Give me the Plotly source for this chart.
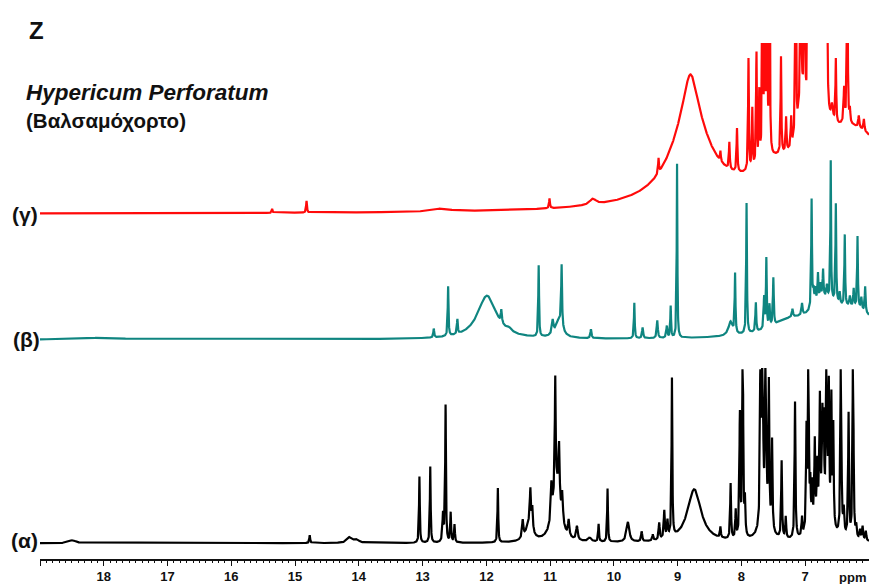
import numpy as np
import plotly.graph_objects as go

# Chemical-shift window (ppm), drawn from high to low field
PPM_LEFT, PPM_RIGHT = 19.0, 6.0
TICK_PPM = list(range(7, 20))

# (α) spectrum: peak centres (ppm), heights, half-widths (ppm)
ALPHA_PPM = [18.49, 14.77, 14.14, 14.03, 13.05, 12.88, 12.68, 12.64, 12.56, 12.50,
             11.82, 11.33, 11.43, 11.31, 11.28, 10.90, 10.98, 10.92, 10.86, 10.81,
             10.71, 10.58, 10.38, 10.24, 10.10, 9.78, 9.565, 9.39, 9.29, 9.21,
             9.16, 9.09, 8.74, 8.33, 8.17, 8.09, 8.025, 7.98, 7.945, 7.63,
             7.70, 7.67, 7.62, 7.57, 7.52, 7.37, 7.305, 7.16, 7.05, 6.74,
             6.98, 6.95, 6.92, 6.89, 6.85, 6.81, 6.77, 6.73, 6.71, 6.665,
             6.63, 6.59, 6.56, 6.44, 6.395, 6.32, 6.25, 6.20, 6.14, 6.10, 6.05]
ALPHA_HEIGHT = [3, 8, 6, 3, 67, 77, 28, 138, 30, 18,
                55, 18, 18, 36, 22, 58, 35, 112, 55, 28,
                16, 14, 4, 18, 54, 20, 10, 6, 17, 28,
                17, 160, 54, 11, 56, 28, 125, 220, 35, 25,
                220, 250, 220, 140, 90, 78, 22, 138, 18, 35,
                100, 200, 40, 40, 80, 50, 110, 85, 80, 220,
                130, 125, 100, 220, 25, 125, 220, 12, 10, 14, 10]
ALPHA_WIDTH = [0.06, 0.008, 0.05, 0.04, 0.007, 0.007, 0.010, 0.007, 0.008, 0.008,
               0.007, 0.06, 0.012, 0.010, 0.010, 0.07, 0.012, 0.008, 0.010, 0.012,
               0.012, 0.015, 0.03, 0.008, 0.007, 0.025, 0.010, 0.010, 0.010, 0.010,
               0.010, 0.007, 0.13, 0.008, 0.008, 0.008, 0.008, 0.008, 0.008, 0.08,
               0.008, 0.008, 0.008, 0.008, 0.008, 0.008, 0.008, 0.008, 0.008, 0.12,
               0.008, 0.008, 0.008, 0.008, 0.008, 0.008, 0.008, 0.008, 0.008, 0.008,
               0.008, 0.008, 0.008, 0.008, 0.010, 0.008, 0.008, 0.010, 0.010, 0.010, 0.010]

# (β) spectrum
BETA_PPM = [18.0, 12.825, 12.60, 12.455, 11.99, 11.765, 11.64, 11.18, 10.96, 10.86,
            10.82, 10.36, 9.68, 9.55, 9.32, 9.17, 9.11, 9.01, 8.17, 8.10,
            7.92, 7.775, 7.645, 7.61, 7.56, 7.50, 7.25, 6.70, 6.20, 7.20,
            7.05, 6.90, 6.87, 6.84, 6.80, 6.76, 6.72, 6.66, 6.60, 6.52,
            6.46, 6.38, 6.30, 6.24, 6.18, 6.12, 6.06]
BETA_HEIGHT = [2, 9, 50, 15, 44, 13, 3, 72, 14, 18,
               62, 9, 36, 11, 18, 12, 32, 176, 14, 60,
               132, 30, 32, 70, 22, 48, 14, 28, 25, 8,
               12, 110, 15, 15, 28, 15, 28, 12, 140, 100,
               12, 72, 10, 18, 72, 12, 26]
BETA_WIDTH = [0.3, 0.008, 0.007, 0.008, 0.18, 0.010, 0.04, 0.007, 0.015, 0.06,
              0.008, 0.010, 0.007, 0.010, 0.010, 0.010, 0.007, 0.006, 0.04, 0.007,
              0.007, 0.008, 0.008, 0.007, 0.008, 0.008, 0.35, 0.25, 0.40, 0.010,
              0.010, 0.007, 0.010, 0.010, 0.008, 0.010, 0.008, 0.010, 0.006, 0.007,
              0.010, 0.007, 0.010, 0.008, 0.007, 0.010, 0.008]

# (γ) spectrum
GAMMA_PPM = [15.36, 14.82, 12.70, 11.01, 10.33, 8.80, 8.80, 6.30, 7.50, 9.30,
             8.33, 8.19, 8.07, 7.89, 7.83, 7.765, 7.72, 7.67, 7.635, 7.60,
             7.56, 7.38, 7.30, 7.22, 7.15, 7.06, 7.07, 7.01, 6.96,
             6.92, 6.895, 6.87, 6.845, 6.82, 6.795, 6.77, 6.745, 6.72, 6.695, 6.67,
             6.58, 6.52, 6.39, 6.34, 6.30, 6.16, 6.08]
GAMMA_HEIGHT = [4, 12, 3, 10, 6, 85, 45, 85, 18, 15,
                10, 27, 44, 113, 60, 115, 70, 300, 300, 300,
                300, 98, 35, 30, 300, 55, 250, 300, 300,
                400, 400, 400, 400, 400, 400, 400, 400, 400, 400, 400,
                18, 65, 35, 250, 13, 12, 12]
GAMMA_WIDTH = [0.008, 0.008, 0.15, 0.008, 0.06, 0.38, 0.13, 0.9, 0.35, 0.008,
               0.008, 0.008, 0.008, 0.007, 0.007, 0.007, 0.007, 0.006, 0.006, 0.006,
               0.006, 0.007, 0.008, 0.008, 0.006, 0.06, 0.006, 0.006, 0.006,
               0.008, 0.008, 0.008, 0.008, 0.008, 0.008, 0.008, 0.008, 0.008, 0.008, 0.008,
               0.02, 0.007, 0.010, 0.006, 0.008, 0.010, 0.010]

# Vertical stacking of the three traces and the display ceiling of (α)
ALPHA_OFFSET, BETA_OFFSET, GAMMA_OFFSET = 16, 222, 349
ALPHA_CEILING = 176
Y_SPAN = 522

ALPHA_COLOR, BETA_COLOR, GAMMA_COLOR = "#000000", "#0f8580", "#ff0a0a"

# plot-area geometry in pixels (used to place the text labels)
M_LEFT, M_RIGHT, M_TOP, M_BOTTOM = 40, 0, 43, 19
W, H = 869, 584
PLOT_W = W - M_LEFT - M_RIGHT
PLOT_H = H - M_TOP - M_BOTTOM


def lorentz_sum(grid, centres, heights, widths):
    c = np.asarray(centres)[:, None]
    h = np.asarray(heights, dtype=float)[:, None]
    w = np.asarray(widths)[:, None]
    return (h / (1.0 + ((grid[None, :] - c) / w) ** 2)).sum(axis=0)


grid = np.arange(PPM_RIGHT, PPM_LEFT + 1e-9, 0.002)
alpha = np.minimum(lorentz_sum(grid, ALPHA_PPM, ALPHA_HEIGHT, ALPHA_WIDTH), ALPHA_CEILING)
beta = lorentz_sum(grid, BETA_PPM, BETA_HEIGHT, BETA_WIDTH)
gamma = lorentz_sum(grid, GAMMA_PPM, GAMMA_HEIGHT, GAMMA_WIDTH)

fig = go.Figure()
for vals, off, col in [(alpha, ALPHA_OFFSET, ALPHA_COLOR),
                       (beta, BETA_OFFSET, BETA_COLOR),
                       (gamma, GAMMA_OFFSET, GAMMA_COLOR)]:
    fig.add_trace(go.Scatter(x=grid, y=vals + off, mode="lines",
                             line=dict(color=col, width=2.2),
                             hoverinfo="skip", showlegend=False))


def px(xp, yp):
    return (xp - M_LEFT) / PLOT_W, (H - M_BOTTOM - yp) / PLOT_H


FONT = "Liberation Sans, Arial, sans-serif"
annotations = []


def label(text, xp, yp, size, xanchor="left"):
    x, y = px(xp, yp)
    annotations.append(dict(text=text, x=x, y=y, xref="paper", yref="paper",
                            xanchor=xanchor, yanchor="middle", showarrow=False,
                            font=dict(family=FONT, size=size, color="#111111")))


label("<b>Z</b>", 27, 30, 24)
label("<b><i>Hypericum Perforatum</i></b>", 24, 93, 22.5)
label("<b>(Βαλσαμόχορτο)</b>", 24, 121, 20.5)
label("<b>(γ)</b>", 10, 216, 21)
label("<b>(β)</b>", 11, 343, 21)
label("<b>(α)</b>", 9, 546, 21)
label("<b>ppm</b>", 852, 584, 13, xanchor="center")

fig.update_layout(
    width=W, height=H,
    margin=dict(l=M_LEFT, r=M_RIGHT, t=M_TOP, b=M_BOTTOM, pad=0),
    paper_bgcolor="white", plot_bgcolor="white",
    hovermode=False,
    annotations=annotations,
    xaxis=dict(range=[PPM_LEFT, PPM_RIGHT], showgrid=False, zeroline=False,
               showline=True, linecolor="#111111", linewidth=1.5,
               tickmode="array", tickvals=TICK_PPM,
               ticktext=[str(v) if v < 19 else "" for v in TICK_PPM],
               ticks="outside", ticklen=5, tickwidth=1.3, tickcolor="#111111",
               tickfont=dict(family=FONT, size=13, color="#111111", weight="bold"),
               minor=dict(tickmode="linear", tick0=0, dtick=0.1, ticks="outside",
                          ticklen=2.5, tickwidth=1, tickcolor="#111111", showgrid=False)),
    yaxis=dict(range=[0, Y_SPAN], visible=False, fixedrange=True),
)

fig.write_html("out.html")
